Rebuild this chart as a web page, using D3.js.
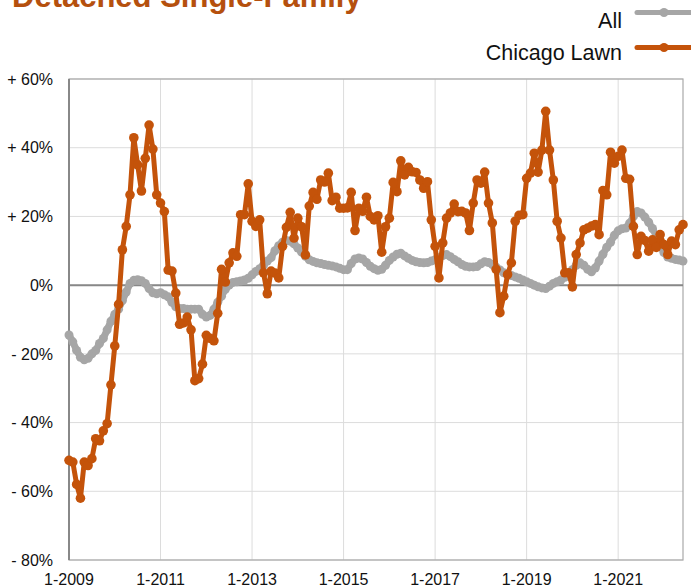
<!DOCTYPE html>
<html>
<head>
<meta charset="utf-8">
<script src="https://cdn.jsdelivr.net/npm/d3@7"></script>
<style>
  html, body { margin: 0; padding: 0; background: #fff; }
  svg { display: block; font-family: "Liberation Sans", Arial, Helvetica, sans-serif; }
</style>
</head>
<body>
<svg width="691" height="588"></svg>
<script>
const width = 691;
const height = 588;

// monthly, 1-2009 .. 6-2022 (year-over-year % change)
const allValues = [
  -14.5, -16.5, -19, -21, -21.7, -21.3, -20, -19, -17, -15.5,
  -13, -10.5, -8.5, -7, -4.5, -2, 0.5, 1.4, 1.6, 1.3,
  0.5, -1, -2.2, -2.5, -2.2, -2.8, -3.4, -5, -6.3, -6.8,
  -6.8, -7, -7, -7, -7, -8.5, -9.3, -8.8, -7, -5,
  -3.2, -1.2, 0, 0.8, 1, 1.2, 1.5, 2, 3, 4,
  4.8, 5.8, 7, 8, 10, 11.5, 12.5, 13, 12.8, 12,
  10.8, 9.6, 8.4, 7.4, 6.9, 6.5, 6.3, 6, 5.8, 5.6,
  5.3, 4.9, 4.5, 4.5, 6.3, 7.6, 7.9, 7.6, 6.6, 5.5,
  4.8, 4.3, 4.6, 5.8, 7.2, 8.2, 9, 9.3, 8.5, 7.8,
  7.2, 6.8, 6.6, 6.5, 6.6, 7, 7.4, 8, 8.6, 8.9,
  8.3, 7.5, 6.8, 6, 5.5, 5.3, 5.3, 5.4, 6.2, 6.8,
  6.6, 6, 5.2, 4.4, 3.6, 3.2, 2.8, 2.4, 2, 1.5,
  1, 0.5, 0, -0.5, -0.8, -1, -0.3, 0.5, 1, 1.5,
  2.3, 3.2, 4.5, 5.8, 6.5, 5.8, 4.6, 3.9, 5, 7,
  9, 11, 12.5, 14.5, 15.8, 16.4, 16.6, 18, 20, 21.4,
  21, 19.8, 18.3, 16.5, 14.3, 11.5, 9.5, 8.2, 7.8, 7.5,
  7.3, 7
];

const lawnValues = [
  -51, -51.5, -58, -62, -51.5, -52.5, -50.5, -44.7, -45.3, -42.4,
  -40.3, -29, -17.7, -5.6, 10.3, 17.1, 26.3, 42.9, 35, 27.4,
  36.9, 46.6, 39.6, 26.3, 23.9, 21.4, 4.4, 4.1, -2.3, -11.4,
  -11, -9.3, -13, -27.8, -27.2, -23, -14.6, -15.5, -16.2, -8.2,
  4.6, 0.9, 6.5, 9.4, 8.4, 20.5, 20.5, 29.5, 18.6, 17.1,
  19, 3.6, -2.5, 4.1, 3.5, 2.1, 11.3, 16.8, 21.2, 13.7,
  19.5, 17, 8.8, 23, 27, 25, 30.6, 30, 32.6, 24.6,
  25.6, 22.4, 22.4, 22.5, 27, 15.9, 22.4, 21.5, 25.6, 20,
  19, 20.2, 9.6, 17, 19.5, 29.9, 27.2, 36.2, 32.1, 34.3,
  33, 32.8, 30.6, 28.2, 30.1, 19, 11.3, 2.1, 12.3, 19.5,
  21, 23.6, 21.4, 21.5, 21, 15.9, 23.9, 30.6, 29.7, 32.9,
  23.9, 18.1, 4.6, -8, -3.2, 3.1, 6.5, 18.6, 20.3, 20.5,
  31.1, 32.6, 38.4, 32.9, 39.3, 50.6, 39.3, 30.6, 18.6, 13.7,
  3.6, 3.6, -0.5, 8.9, 12.3, 16.1, 16.6, 17.2, 17.6, 14.7,
  27.5, 26.3, 38.7, 35.5, 37.5, 39.3, 31.1, 30.8, 17.1, 8.9,
  14.2, 13, 9.9, 13.2, 11, 14.7, 11.8, 8.9, 12.8, 11.8,
  16.1, 17.6
];

const xTickMonths = [0, 24, 48, 72, 96, 120, 144];
const xTickLabels = ["1-2009", "1-2011", "1-2013", "1-2015", "1-2017", "1-2019", "1-2021"];
const yTicks = [60, 40, 20, 0, -20, -40, -60, -80];

const seriesNames = ["All", "Chicago Lawn"];
const seriesColors = ["#a6a6a6", "#c4530a"];

const margin = { left: 69, right: 8, top: 79, bottom: 28 };

const x = d3.scaleLinear().domain([0, allValues.length - 1]).range([margin.left, width - margin.right]);
const y = d3.scaleLinear().domain([-80, 60]).range([height - margin.bottom, margin.top]);

const svg = d3.select('svg');

// title (cut by the top edge, as in the source)
svg.append('text')
  .attr('x', 12)
  .attr('y', 7)
  .attr('fill', '#b5500e')
  .attr('font-size', 31)
  .attr('font-weight', 'bold')
  .text('Detached Single-Family');

// grid
const grid = svg.append('g').classed('grid', true);
grid.selectAll('.hgrid')
  .data(yTicks)
  .join('line')
  .attr('x1', x.range()[0]).attr('x2', x.range()[1])
  .attr('y1', d => y(d)).attr('y2', d => y(d))
  .attr('stroke', '#dcdcdc').attr('stroke-width', 1);
grid.selectAll('.vgrid')
  .data(xTickMonths)
  .join('line')
  .attr('x1', d => x(d)).attr('x2', d => x(d))
  .attr('y1', y.range()[0]).attr('y2', y.range()[1])
  .attr('stroke', '#dcdcdc').attr('stroke-width', 1);

// frame
svg.append('rect')
  .attr('x', x.range()[0]).attr('y', y.range()[1])
  .attr('width', x.range()[1] - x.range()[0])
  .attr('height', y.range()[0] - y.range()[1])
  .attr('fill', 'none').attr('stroke', '#a8a8a8').attr('stroke-width', 1.2);

// zero line and left axis
svg.append('line')
  .attr('x1', x.range()[0]).attr('x2', x.range()[1])
  .attr('y1', y(0)).attr('y2', y(0))
  .attr('stroke', '#888').attr('stroke-width', 2);
svg.append('line')
  .attr('x1', x.range()[0]).attr('x2', x.range()[0])
  .attr('y1', y.range()[0]).attr('y2', y.range()[1])
  .attr('stroke', '#888').attr('stroke-width', 2);

// y labels
const fmtY = v => v > 0 ? `+ ${v}%` : v < 0 ? `- ${-v}%` : '0%';
svg.append('g')
  .selectAll('text')
  .data(yTicks)
  .join('text')
  .attr('x', 53)
  .attr('y', d => y(d))
  .attr('dy', '0.36em')
  .attr('text-anchor', 'end')
  .attr('font-size', 16)
  .attr('fill', '#111')
  .text(fmtY);

// x labels
svg.append('g')
  .selectAll('text')
  .data(xTickMonths)
  .join('text')
  .attr('x', d => x(d))
  .attr('y', 585)
  .attr('text-anchor', 'middle')
  .attr('font-size', 16)
  .attr('fill', '#111')
  .text((d, i) => xTickLabels[i]);

// series
const line = d3.line().x((d, i) => x(i)).y(d => y(d));
const series = [allValues, lawnValues];
series.forEach((vals, s) => {
  const g = svg.append('g').classed('series', true);
  g.append('path')
    .datum(vals)
    .attr('d', line)
    .attr('fill', 'none')
    .attr('stroke', seriesColors[s])
    .attr('stroke-width', s === 0 ? 7 : 5)
    .attr('stroke-linejoin', 'round');
  g.selectAll('circle')
    .data(vals)
    .join('circle')
    .attr('cx', (d, i) => x(i))
    .attr('cy', d => y(d))
    .attr('r', s === 0 ? 4.5 : 4.8)
    .attr('fill', seriesColors[s]);
});

// legend
const legend = svg.append('g').classed('legend', true);
const legendRows = [12.5, 47.5];
seriesNames.forEach((name, i) => {
  legend.append('text')
    .attr('x', 622)
    .attr('y', legendRows[i] + (i === 0 ? 15.5 : 12.5))
    .attr('text-anchor', 'end')
    .attr('font-size', 21.5)
    .attr('fill', '#111')
    .text(name);
  legend.append('line')
    .attr('x1', 637).attr('x2', 700)
    .attr('y1', legendRows[i]).attr('y2', legendRows[i])
    .attr('stroke', seriesColors[i])
    .attr('stroke-width', 5)
    .attr('stroke-linecap', 'round');
  legend.append('circle')
    .attr('cx', 664).attr('cy', legendRows[i])
    .attr('r', 4.5)
    .attr('fill', seriesColors[i]);
});
</script>
</body>
</html>
